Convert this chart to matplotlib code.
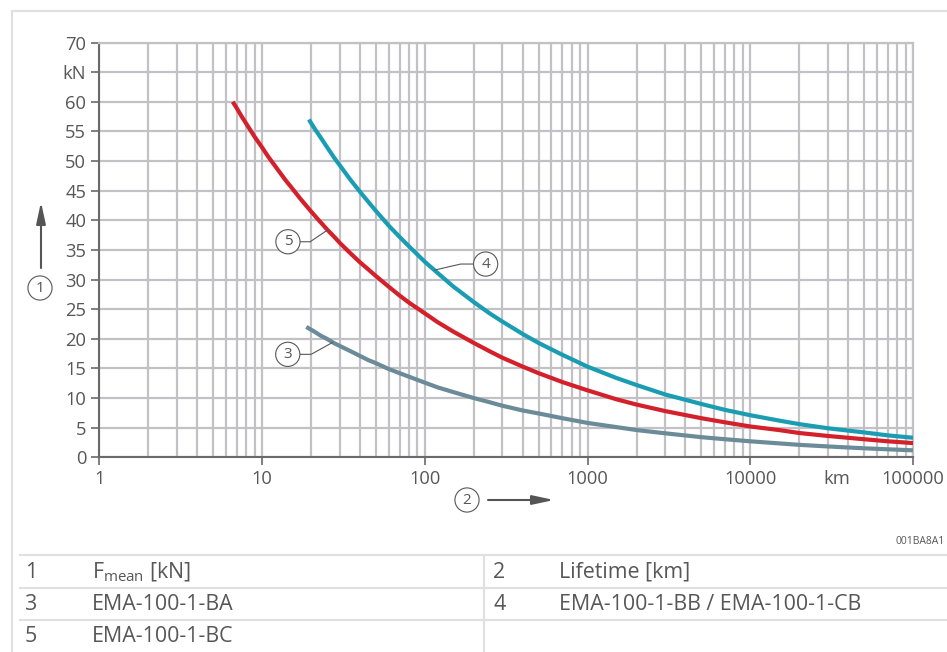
import matplotlib
matplotlib.use("Agg")
import matplotlib.pyplot as plt
from matplotlib.lines import Line2D
from matplotlib.patches import FancyArrowPatch
from matplotlib.ticker import FixedLocator, NullFormatter

plt.rcParams['font.family'] = ['Open Sans', 'DejaVu Sans']
plt.rcParams['mathtext.fontset'] = 'custom'
plt.rcParams['mathtext.rm'] = 'Open Sans'

# lifetime [km] and mean force [kN]
life_ba = [18.7, 21, 23, 25, 28, 30, 35, 40, 45, 50, 60, 70, 80, 100, 120, 150, 200, 250,
           300, 400, 500, 700, 1000, 1500, 2000, 3000, 5000, 7000, 10000, 15000, 20000,
           30000, 50000, 70000, 100000]
force_ba = [22.0, 21.2, 20.5, 20.0, 19.2, 18.8, 17.9, 17.1, 16.4, 15.9, 14.9, 14.2, 13.6,
            12.6, 11.8, 11.0, 10.0, 9.3, 8.7, 7.9, 7.4, 6.6, 5.8, 5.1, 4.6, 4.05, 3.4,
            3.05, 2.7, 2.35, 2.1, 1.83, 1.52, 1.35, 1.18]

life_bb = [19.4, 21, 23, 25, 28, 30, 35, 40, 45, 50, 60, 70, 80, 100, 120, 150, 200, 250,
           300, 400, 500, 700, 1000, 1500, 2000, 3000, 5000, 7000, 10000, 15000, 20000,
           30000, 50000, 70000, 100000]
force_bb = [57.0, 55.5, 53.9, 52.4, 50.4, 49.3, 46.8, 44.8, 43.1, 41.6, 39.1, 37.2, 35.6,
            33.0, 31.1, 28.8, 26.2, 24.3, 22.9, 20.8, 19.3, 17.3, 15.3, 13.4, 12.2, 10.6,
            9.0, 8.0, 7.1, 6.2, 5.6, 4.9, 4.2, 3.7, 3.3]

life_bc = [6.6, 7, 7.5, 8, 9, 10, 11, 12, 13, 14, 15, 17, 20, 22, 25, 28, 30, 35, 40, 45,
           50, 60, 70, 80, 100, 120, 150, 200, 250, 300, 400, 500, 700, 1000, 1500, 2000,
           3000, 5000, 7000, 10000, 15000, 20000, 30000, 50000, 70000, 100000]
force_bc = [60.0, 58.9, 57.5, 56.3, 54.1, 52.3, 50.6, 49.2, 47.9, 46.7, 45.7, 43.8, 41.5,
            40.2, 38.5, 37.1, 36.2, 34.4, 32.9, 31.7, 30.6, 28.8, 27.3, 26.1, 24.3, 22.8,
            21.2, 19.3, 17.9, 16.8, 15.3, 14.2, 12.7, 11.3, 9.8, 8.9, 7.8, 6.6, 5.9, 5.2,
            4.6, 4.1, 3.6, 3.05, 2.7, 2.4]

x_major = [1, 10, 100, 1000, 10000, 34000, 100000]
x_labels = ['1', '10', '100', '1000', '10000', 'km', '100000']
y_ticks = list(range(0, 75, 5))
y_labels = [str(v) if v != 65 else 'kN' for v in y_ticks]

legend_rows = [
    ('1', r'F$_{\mathrm{mean}}$ [kN]', '2', 'Lifetime [km]'),
    ('3', 'EMA-100-1-BA', '4', 'EMA-100-1-BB / EMA-100-1-CB'),
    ('5', 'EMA-100-1-BC', '', ''),
]

W, H = 947, 652
GRID = '#c2c2c6'
DARK = '#6a6a6a'
TEXT = '#575757'

fig = plt.figure(figsize=(W / 100, H / 100), dpi=100)


def fx(px):
    return px / W


def fy(py):
    return 1 - py / H


ax = fig.add_axes([fx(99.3), fy(457.3), fx(913) - fx(99.3), fy(42.5) - fy(457.3)])

ax.plot(life_ba, force_ba, color='#6c8b99', lw=3, solid_capstyle='butt', zorder=3)
ax.plot(life_bc, force_bc, color='#d3202a', lw=3, solid_capstyle='butt', zorder=3)
ax.plot(life_bb, force_bb, color='#1a9db2', lw=3, solid_capstyle='butt', zorder=3)

ax.set_xscale('log')
ax.set_xlim(1, 100000)
ax.set_ylim(0, 70)

ax.xaxis.set_major_locator(FixedLocator(x_major))
ax.set_xticklabels(x_labels)
minors = [m * 10 ** d for d in range(5) for m in range(2, 10)]
ax.xaxis.set_minor_locator(FixedLocator(minors))
ax.xaxis.set_minor_formatter(NullFormatter())
ax.set_yticks(y_ticks)
ax.set_yticklabels(y_labels)

ax.grid(True, which='both', color=GRID, lw=1.6, zorder=1)
ax.set_axisbelow(True)
ax.tick_params(axis='both', which='major', length=6, width=1.2, color=DARK,
               labelsize=13.2, labelcolor=TEXT, pad=3.4)
ax.tick_params(axis='x', which='minor', length=0)

# the "km" unit sits in the tick row without tick or grid line
km_tick = ax.xaxis.get_major_ticks()[x_labels.index('km')]
km_tick.tick1line.set_visible(False)
km_tick.gridline.set_visible(False)

for side in ('left', 'bottom'):
    ax.spines[side].set_color(DARK)
    ax.spines[side].set_linewidth(1.5)
for side in ('top', 'right'):
    ax.spines[side].set_color(GRID)
    ax.spines[side].set_linewidth(1.6)

# numbered callouts: (text, anchor life, anchor force, offset px, angleA, angleB)
callouts = [
    ('5', 25.4, 38.4, (-40, -12), 0, 34),
    ('3', 27.2, 19.4, (-45, -12), 0, 29),
    ('4', 115, 31.6, (51, 6), 180, 13),
]
circle = dict(boxstyle='circle,pad=0.3', fc='white', ec=TEXT, lw=0.8)
for label, lx, ly, off, a_a, a_b in callouts:
    ax.annotate(label, xy=(lx, ly), xytext=off, textcoords='offset pixels',
                ha='center', va='center', fontsize=11, color=TEXT, bbox=circle,
                arrowprops=dict(arrowstyle='-', color=TEXT, lw=0.8, shrinkA=0, shrinkB=0,
                                connectionstyle=f'angle,angleA={a_a},angleB={a_b},rad=0'),
                zorder=5)

# axis name markers
arrow_style = '-|>,head_length=13,head_width=2.8'
fig.text(fx(40), fy(288), '1', ha='center', va='center', fontsize=11, color=TEXT, bbox=circle)
fig.add_artist(FancyArrowPatch(
    (fx(41), fy(268)), (fx(41), fy(202)), transform=fig.transFigure,
    arrowstyle=arrow_style, color='#555555', lw=1.5, shrinkA=0, shrinkB=0))
fig.text(fx(467), fy(500), '2', ha='center', va='center', fontsize=11, color=TEXT, bbox=circle)
fig.add_artist(FancyArrowPatch(
    (fx(488), fy(500)), (fx(554), fy(500)), transform=fig.transFigure,
    arrowstyle=arrow_style, color='#555555', lw=1.5, shrinkA=0, shrinkB=0))

fig.text(fx(945), fy(541), '001BA8A1', ha='right', va='center', fontsize=7.5, color=TEXT)

# outer frame
BORDER = '#e0e0e0'
fig.add_artist(Line2D([fx(12), 1], [fy(11), fy(11)], color=BORDER, lw=1.5))
fig.add_artist(Line2D([fx(12), fx(12)], [fy(11), 0], color=BORDER, lw=1.5))

# legend table
row_lines = [555, 588, 620]
for yl in row_lines:
    fig.add_artist(Line2D([fx(20), 1], [fy(yl), fy(yl)], color=BORDER, lw=1.5))
fig.add_artist(Line2D([fx(484), fx(484)], [fy(555), 0], color=BORDER, lw=1.5))
for i, (n1, t1, n2, t2) in enumerate(legend_rows):
    yc = fy(row_lines[i] + 17)
    fig.text(fx(25), yc, n1, ha='left', va='center', fontsize=15.4, color=TEXT)
    fig.text(fx(92), yc, t1, ha='left', va='center', fontsize=15.4, color=TEXT)
    fig.text(fx(493), yc, n2, ha='left', va='center', fontsize=15.4, color=TEXT)
    fig.text(fx(559), yc, t2, ha='left', va='center', fontsize=15.4, color=TEXT)

fig.savefig('out.png', dpi=100)
